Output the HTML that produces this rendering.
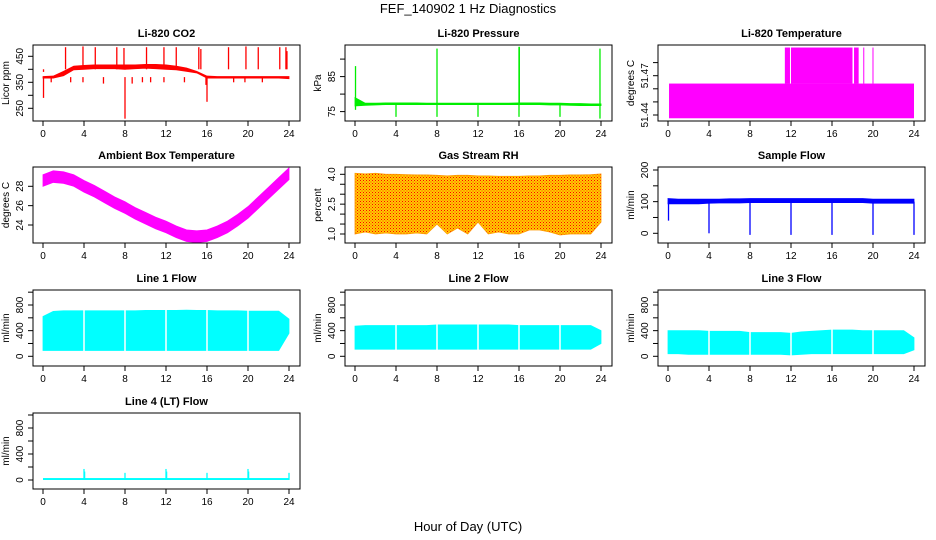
<!DOCTYPE html>
<html><head><meta charset="utf-8"><style>
html,body{margin:0;padding:0;background:#fff}
svg{display:block;font-family:"Liberation Sans",Arial,sans-serif}
</style></head><body>
<svg id="c" width="936" height="540" viewBox="0 0 936 540">
<defs><pattern id="rhpat" width="3" height="3" patternUnits="userSpaceOnUse"><rect width="3" height="3" fill="#ffcc00"/><rect width="1" height="1" fill="#ff0000"/><rect x="1.5" y="1.5" width="1" height="1" fill="#ff3300"/></pattern></defs>
<text x="468" y="13" font-size="13" text-anchor="middle">FEF_140902  1 Hz Diagnostics</text>
<text x="468" y="531" font-size="13" text-anchor="middle">Hour of Day (UTC)</text>
</svg>
<script>
const hours=[0,1,2,3,4,5,6,7,8,9,10,11,12,13,14,15,16,17,18,19,20,21,22,23,24];
const xTicks=[0,4,8,12,16,20,24];
const co2Hi=[372,374,392,412,415,417,417,417,417,417,419,419,417,412,405,392,374,372,372,372,372,372,372,372,372];
const co2Lo=[366,366,375,398,400,402,402,402,400,402,404,402,400,398,392,386,366,366,366,366,366,366,366,366,364];
const co2UpT=[0.05,2.2,3.9,5.1,7.2,7.9,10.1,11.8,13.0,15.2,15.4,18.1,19.8,21.0,23.1,23.7,23.8];
const co2UpV=[390,485,488,485,485,482,485,485,485,485,478,485,488,485,485,485,470];
const co2DnT=[0.05,8.0,16.0,2.7,3.9,5.9,8.7,9.7,10.5,11.8,13.8,18.6,19.7,21.4,0.8,15.9];
const co2DnV=[290,210,275,350,350,345,345,350,350,350,350,350,350,350,350,340];
const presHi=[79,77.4,77.4,77.5,77.5,77.5,77.5,77.4,77.4,77.4,77.4,77.4,77.4,77.4,77.4,77.4,77.5,77.5,77.5,77.4,77.4,77.3,77.3,77.2,77.2];
const presLo=[76.6,76.8,76.9,77.0,77.0,77.0,77.0,77.0,77.0,77.0,77.0,77.0,77.0,77.0,77.0,77.0,77.0,77.0,77.0,76.9,76.9,76.8,76.7,76.7,76.7];
const presUpT=[0.05,8.0,16.0,16.03,23.9];
const presUpV=[88,93,93.5,93.5,93];
const presDnT=[0.05,4.0,8.0,12.0,16.0,20.0,23.9];
const presDnV=[75.5,73.5,73.5,73.5,73.5,73.5,73];
const tempBaseLo=51.4375, tempBaseHi=51.464, tempTop=51.4915;
const tempTopStart=[11.4,12.0,18.15,19.05,19.95];
const tempTopEnd=[11.9,18.0,18.6,19.1,20.0];
const ambHi=[29.2,29.6,29.5,29.2,28.6,28.1,27.5,26.9,26.4,25.8,25.3,24.8,24.4,23.9,23.5,23.4,23.5,23.9,24.4,25.1,25.9,26.9,27.9,28.9,29.9];
const ambLo=[28.0,28.4,28.3,28.0,27.4,26.9,26.3,25.7,25.2,24.6,24.1,23.6,23.2,22.7,22.3,22.2,22.3,22.7,23.2,23.9,24.7,25.7,26.7,27.7,28.7];
const rhHi=[4.05,4.02,4.05,4.0,4.0,3.98,3.97,3.97,3.95,3.92,3.95,3.95,3.92,3.92,3.9,3.9,3.9,3.92,3.92,3.95,3.95,3.97,3.97,3.98,4.02];
const rhLo=[1.0,1.1,1.0,1.05,1.0,1.0,1.05,1.0,1.5,1.0,1.3,1.0,1.6,1.0,1.1,1.0,1.0,1.2,1.2,1.1,0.95,1.0,1.0,1.0,1.6];
const sfHi=[110,108,108,108,108,108,109,109,110,110,110,110,110,110,110,110,110,110,110,110,108,108,108,108,108];
const sfLo=[93,93,93,93,95,96,96,96,97,97,97,97,97,97,97,97,97,97,97,97,95,95,95,95,95];
const sfDipT=[0.05,4,8,12,16,20,24];
const sfDipV=[40,0,-5,-5,-5,-5,-5];
const l1Hi=[620,700,710,710,710,710,710,710,710,710,715,715,715,715,720,715,715,710,710,710,705,705,705,705,580];
const l1Lo=[90,90,90,90,90,90,90,90,90,90,90,90,90,90,90,90,90,90,90,90,90,90,90,90,360];
const l2Hi=[470,480,480,480,480,480,480,480,490,490,490,490,490,490,490,490,480,480,480,480,480,480,480,480,400];
const l2Lo=[110,110,110,110,110,110,110,110,110,110,110,110,110,110,110,110,110,110,110,110,110,110,110,110,200];
const l3Hi=[400,400,400,400,390,390,390,390,370,370,370,370,360,380,390,400,410,410,410,400,400,400,400,400,290];
const l3Lo=[40,40,30,30,30,30,30,30,30,30,30,30,20,30,40,40,40,40,40,40,40,40,40,40,100];
const lineGaps=[4,8,12,16,20];
const l4Base=[0,30];
const l4SpT=[4,4.06,8,12,12.06,16,20,20.06,24];
const l4SpV=[170,130,110,170,130,110,170,130,110];

const svg=document.getElementById('c');
const NS='http://www.w3.org/2000/svg';
function mk(tag,attrs,parent){const e=document.createElementNS(NS,tag);for(const k in attrs)e.setAttribute(k,attrs[k]);(parent||svg).appendChild(e);return e;}
const colL=[33,345,658], rowT=[45,167,290,413], W=267, H=76;

function panel(o){
  const g=mk('g',{});
  
  
  const L=colL[o.c], T=rowT[o.r];
  const X=t=>L+10+t/24*(W-21);
  const k=(o.p2-o.p1)/(o.v2-o.v1);
  const Y=v=>T+o.p1+(v-o.v1)*k;
  o.draw(g,X,Y,L,T);
  const box=mk('rect',{x:L,y:T,width:W,height:H,fill:'none',stroke:'#000','stroke-width':1},g);
  
  
  const tt=mk('text',{x:L+W/2,y:T-8,'font-size':11,'font-weight':'bold','text-anchor':'middle'},g);
  tt.textContent=o.title;
  
  
  const xa=mk('g',{},g);
  
  
  mk('line',{x1:X(0),x2:X(24),y1:T+H,y2:T+H,stroke:'#000'},xa);
  xTicks.forEach(t=>{
    mk('line',{x1:X(t),x2:X(t),y1:T+H,y2:T+H+5,stroke:'#000'},xa);
    const tx=mk('text',{x:X(t),y:T+H+16,'font-size':10,'text-anchor':'middle'},xa);tx.textContent=t;
  });
  const ya=mk('g',{},g);
  
  
  mk('line',{x1:L,x2:L,y1:Y(o.ticks[0]),y2:Y(o.ticks[o.ticks.length-1]),stroke:'#000'},ya);
  o.ticks.forEach(v=>{
    mk('line',{x1:L-5,x2:L,y1:Y(v),y2:Y(v),stroke:'#000'},ya);
  });
  o.labels.forEach(v=>{
    const yy=Y(v);
    const tx=mk('text',{x:L-10,y:yy,'font-size':10,'text-anchor':'middle',transform:`rotate(-90 ${L-10} ${yy})`},ya);
    tx.textContent=o.fmt?o.fmt(v):v;
  });
  const yl=mk('text',{x:L-24,y:T+H/2,'font-size':10,'text-anchor':'middle',transform:`rotate(-90 ${L-24} ${T+H/2})`},g);
  yl.textContent=o.ylab;
  
  
}
function band(g,X,Y,hi,lo,fill,name){
  let d='M'+hours.map((t,i)=>X(t)+','+Y(hi[i])).join('L');
  for(let i=hours.length-1;i>=0;i--)d+='L'+X(hours[i])+','+Y(lo[i]);
  const p=mk('path',{d:d+'Z',fill:fill,stroke:fill==='url(#rhpat)'?'#ff9900':fill,'stroke-width':0.8},g);
  
  
}
function spikes(g,X,Y,ts,vs,from,color,name){
  ts.forEach((t,i)=>{
    const l=mk('line',{x1:X(t),x2:X(t),y1:Y(from),y2:Y(vs[i]),stroke:color,'stroke-width':1.3},g);
    
    
  });
}
function gaps(g,X,Y,top,bot){
  lineGaps.forEach(t=>{
    const l=mk('line',{x1:X(t),x2:X(t),y1:Y(top),y2:Y(bot),stroke:'#fff','stroke-width':1.5},g);
    
    
  });
}
panel({name:'co2-panel',c:0,r:0,title:'Li-820 CO2',ylab:'Licor ppm',v1:450,p1:11.3,v2:250,p2:63.3,
  ticks:[250,300,350,400,450],labels:[250,350,450],
  draw:(g,X,Y)=>{band(g,X,Y,co2Hi,co2Lo,'#ff0000','co2-series');spikes(g,X,Y,co2UpT,co2UpV,400,'#ff0000','co2-spike');spikes(g,X,Y,co2DnT,co2DnV,370,'#ff0000','co2-dip');}});
panel({name:'pressure-panel',c:1,r:0,title:'Li-820 Pressure',ylab:'kPa',v1:85,p1:31.6,v2:75,p2:66.6,
  ticks:[75,80,85,90],labels:[75,85],
  draw:(g,X,Y)=>{band(g,X,Y,presHi,presLo,'#00ee00','pressure-series');spikes(g,X,Y,presUpT,presUpV,77,'#00ee00','pressure-spike');spikes(g,X,Y,presDnT,presDnV,77,'#00ee00','pressure-dip');}});
panel({name:'li820-temp-panel',c:2,r:0,title:'Li-820 Temperature',ylab:'degrees C',v1:51.47,p1:30.7,v2:51.44,p2:70,
  ticks:[51.44,51.45,51.46,51.47,51.48],labels:[51.44,51.47],fmt:v=>v.toFixed(2),
  draw:(g,X,Y)=>{
    const r=mk('rect',{x:X(0.1),y:Y(tempBaseHi),width:X(24)-X(0.1),height:Y(tempBaseLo)-Y(tempBaseHi),fill:'#ff00ff'},g);
    
    
    tempTopStart.forEach((s,i)=>{
      const e=tempTopEnd[i];
      const rr=mk('rect',{x:X(s),y:Y(tempTop),width:Math.max(1,X(e)-X(s)),height:Y(tempBaseHi)-Y(tempTop),fill:'#ff00ff'},g);
      
      
    });}});
panel({name:'ambient-temp-panel',c:0,r:1,title:'Ambient Box Temperature',ylab:'degrees C',v1:28,p1:19.3,v2:24,p2:58,
  ticks:[24,26,28],labels:[24,26,28],
  draw:(g,X,Y)=>{band(g,X,Y,ambHi,ambLo,'#ff00ff','ambient-series');}});
panel({name:'rh-panel',c:1,r:1,title:'Gas Stream RH',ylab:'percent',v1:4,p1:7.3,v2:1,p2:67,
  ticks:[1,1.5,2,2.5,3,3.5,4],labels:[1,2.5,4],fmt:v=>v.toFixed(1),
  draw:(g,X,Y)=>{band(g,X,Y,rhHi,rhLo,'url(#rhpat)','rh-series');}});
panel({name:'sample-flow-panel',c:2,r:1,title:'Sample Flow',ylab:'ml/min',v1:200,p1:3,v2:0,p2:66.3,
  ticks:[0,50,100,150,200],labels:[0,100,200],
  draw:(g,X,Y)=>{band(g,X,Y,sfHi,sfLo,'#0000ff','sample-flow-series');spikes(g,X,Y,sfDipT,sfDipV,100,'#0000ff','sample-flow-dip');}});
const flowCfg={ylab:'ml/min',v1:800,p1:15,v2:0,p2:66.3,ticks:[0,200,400,600,800,1000],labels:[0,400,800]};
panel(Object.assign({name:'line1-flow-panel',c:0,r:2,title:'Line 1 Flow',draw:(g,X,Y)=>{band(g,X,Y,l1Hi,l1Lo,'#00ffff','line1-series');gaps(g,X,Y,760,70);}},flowCfg));
panel(Object.assign({name:'line2-flow-panel',c:1,r:2,title:'Line 2 Flow',draw:(g,X,Y)=>{band(g,X,Y,l2Hi,l2Lo,'#00ffff','line2-series');gaps(g,X,Y,520,90);}},flowCfg));
panel(Object.assign({name:'line3-flow-panel',c:2,r:2,title:'Line 3 Flow',draw:(g,X,Y)=>{band(g,X,Y,l3Hi,l3Lo,'#00ffff','line3-series');gaps(g,X,Y,430,10);}},flowCfg));
panel(Object.assign({name:'line4-flow-panel',c:0,r:3,title:'Line 4 (LT) Flow',draw:(g,X,Y)=>{
  const r=mk('rect',{x:X(0),y:Y(l4Base[1]),width:X(24)-X(0),height:Y(l4Base[0])-Y(l4Base[1]),fill:'#00ffff'},g);
  
  
  spikes(g,X,Y,l4SpT,l4SpV,0,'#00ffff','line4-spike');}},flowCfg,{p2:67}));
</script>
</body></html>
